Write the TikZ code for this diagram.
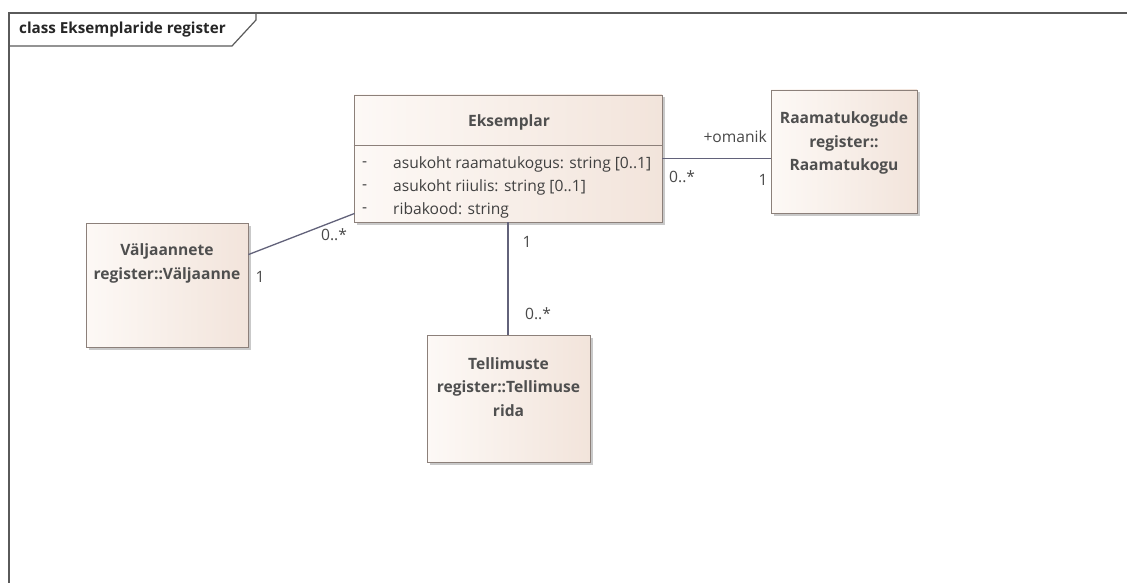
\documentclass[tikz,border=0pt]{standalone}
\usepackage{fontspec}
\setmainfont{Open Sans}
\usetikzlibrary{calc,shadows}
\definecolor{framec}{HTML}{5A5A5A}
\definecolor{boxline}{HTML}{8C807A}
\definecolor{boxlight}{HTML}{FDF9F6}
\definecolor{boxdark}{HTML}{F2E4DB}
\definecolor{txtc}{HTML}{404040}
\definecolor{assoc}{HTML}{62627A}
\tikzset{
  classbox/.style={draw=boxline, line width=0.9pt, rectangle, inner sep=0pt,
    left color=boxlight, right color=boxdark,
    drop shadow={shadow xshift=2.5pt, shadow yshift=-2.5pt, opacity=0.35, fill=black!60}},
  ctitle/.style={font=\fontsize{15.6}{23.5}\selectfont\bfseries, text=txtc!92, align=center, inner sep=0pt},
  attr/.style={font=\fontsize{15.6}{18}\selectfont, text=txtc, anchor=west, inner sep=0pt},
  mult/.style={font=\fontsize{15.6}{18}\selectfont, text=txtc!95, inner sep=0pt},
  assocline/.style={draw=assoc, line width=1.3pt},
}
\begin{document}
\begin{tikzpicture}[x=1pt,y=-1pt]
\useasboundingbox (0,0) rectangle (1127,583);
\fill[white] (0,0) rectangle (1127,583);

% package frame with its name tab
\draw[framec, line width=1.6pt] (9,585) -- (9,13) -- (1130,13);
\draw[framec, line width=1.2pt] (9,46) -- (232,46) -- (256,20) -- (256,13);
\node[font=\fontsize{15.2}{18}\selectfont\bfseries, text=black!85, anchor=west, inner sep=0pt] (frametitle) at (19,30) {class Eksemplaride register};

% classes
\node[classbox, minimum width=308pt, minimum height=127pt] (eks) at (508,158.5) {};
\draw[boxline, line width=0.9pt] (eks.west |- 0,145) -- (eks.east |- 0,145);
\node[ctitle] (eksname) at (509,122) {Eksemplar};
\node[attr] (d1) at (362,164) {-};
\node[attr] (d2) at (362,187) {-};
\node[attr] (d3) at (362,210) {-};
\node[attr] (a1) at (393,164) {asukoht raamatukogus: string [0..1]};
\node[attr] (a2) at (393,187) {asukoht riiulis: string [0..1]};
\node[attr] (a3) at (393,210) {ribakood: string};

\node[classbox, minimum width=146pt, minimum height=123pt] (rk) at (844,151.5) {};
\node[ctitle] (rkname) at (844,143) {Raamatukogude\\register::\\Raamatukogu};

\node[classbox, minimum width=162pt, minimum height=124pt] (val) at (167,285) {};
\node[ctitle] (valname) at (167,263.5) {Väljaannete\\register::Väljaanne};

\node[classbox, minimum width=163pt, minimum height=127pt] (tel) at (508.5,398.5) {};
\node[ctitle] (telname) at (508.5,387) {Tellimuste\\register::Tellimuse\\rida};

% associations
\draw[assocline] (eks.east) -- (eks.east -| rk.west);
\draw[assocline] ($(val.north east)+(0,32)$) -- ($(eks.south west)+(1,-9)$);
\draw[assocline] (eks.south) -- (eks.south |- tel.north);

% role names and multiplicities
\node[mult, anchor=east] (role) at (767,137) {+omanik};
\node[mult, anchor=west] (m1) at (669,177) {0..*};
\node[mult] (m2) at (763,180) {1};
\node[mult] (m3) at (334,235) {0..*};
\node[mult] (m4) at (260,277) {1};
\node[mult] (m5) at (527,242) {1};
\node[mult] (m6) at (538,314) {0..*};
\end{tikzpicture}
\end{document}
